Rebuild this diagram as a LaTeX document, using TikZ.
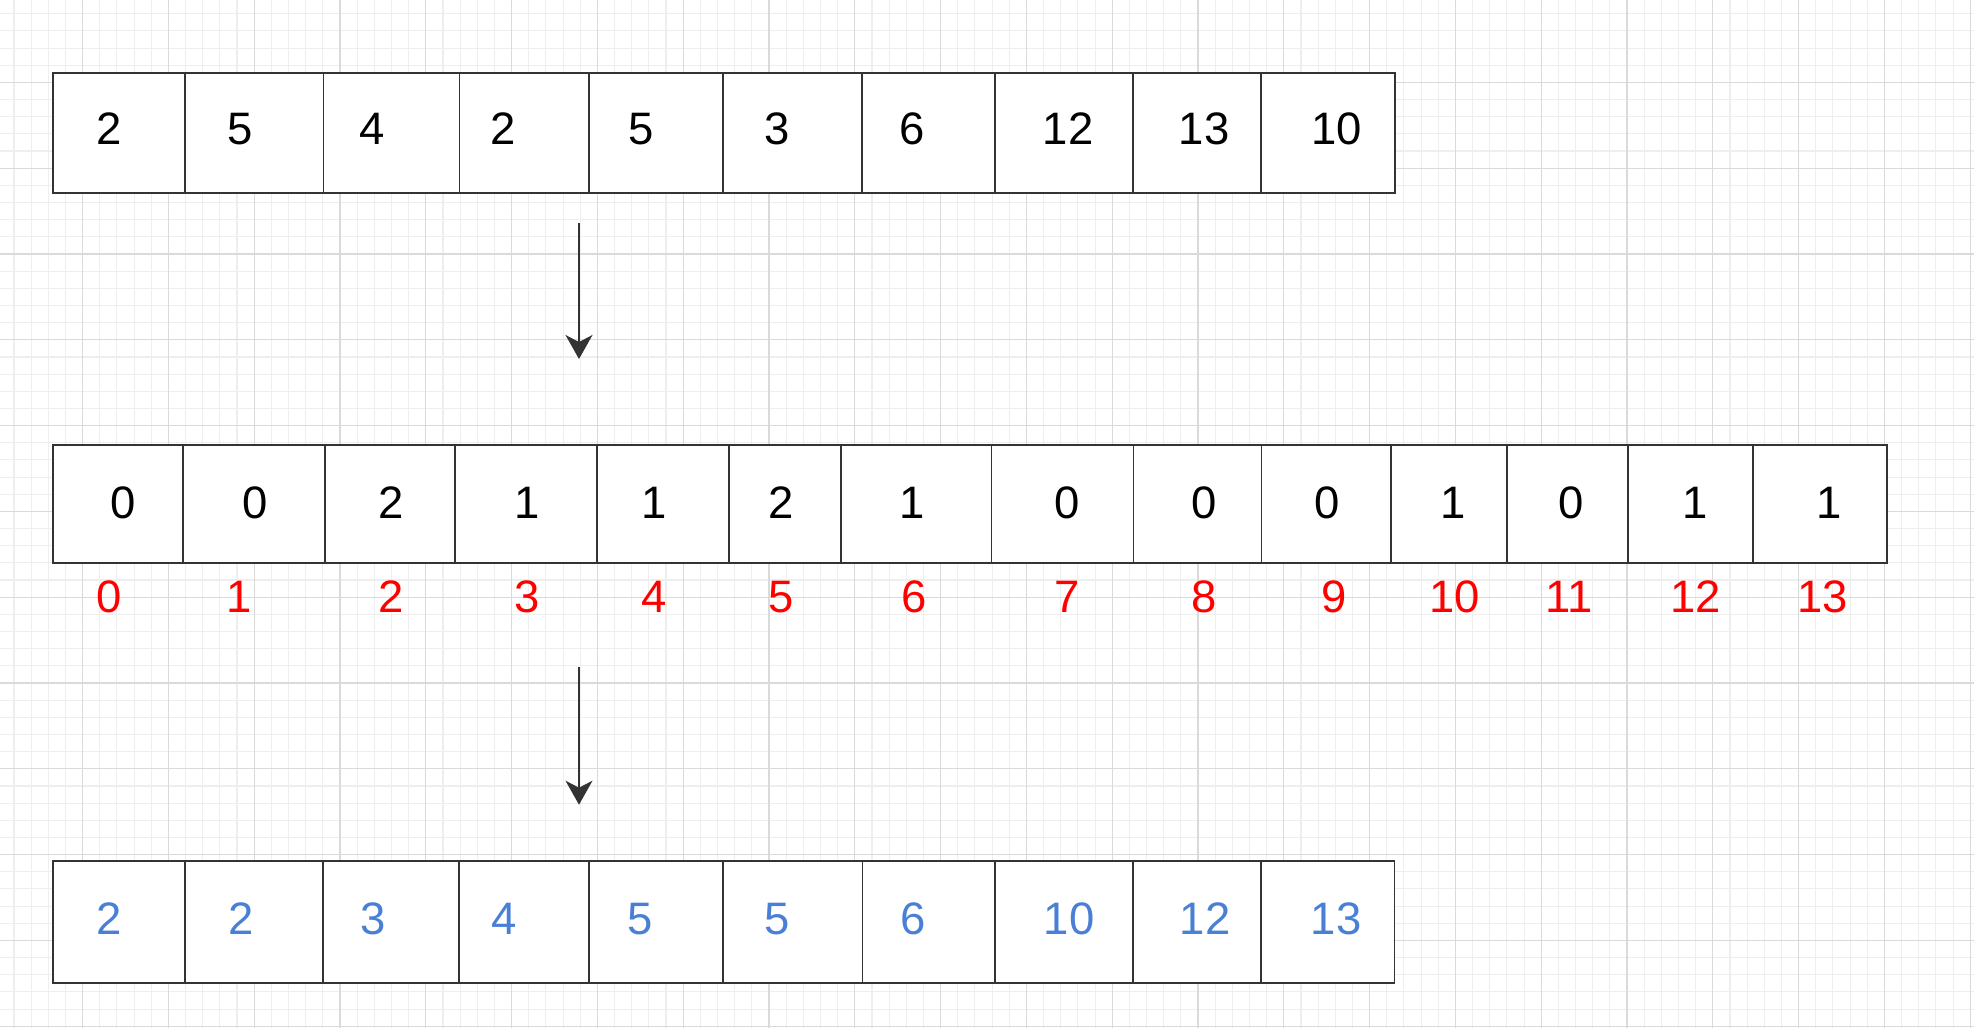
\documentclass[tikz,border=0pt]{standalone}
\usepackage{fontspec}
\setmainfont{Liberation Sans}
\usetikzlibrary{arrows.meta}
\definecolor{gmin}{HTML}{EEEEEE}
\definecolor{gmaj}{HTML}{DADADA}
\definecolor{edgec}{HTML}{333333}
\definecolor{bluetxt}{HTML}{4A7FD6}
\definecolor{redtxt}{HTML}{FF0000}
\begin{document}
\begin{tikzpicture}[x=1pt,y=-1pt,
  gridminor/.style={draw=gmin,line width=1.1pt},
  gridmajor/.style={draw=gmaj,line width=1.1pt},
  cell/.style={draw=edgec,line width=1.7pt,fill=white,inner sep=0pt,outer sep=0pt},
  numtxt/.style={anchor=base,inner sep=0pt,font=\fontsize{45.5}{50}\selectfont},
  blacktxt/.style={numtxt,text=black},
  redlbl/.style={numtxt,text=redtxt},
  bluelbl/.style={numtxt,text=bluetxt},
  arr/.style={draw=edgec,line width=1.5pt,-{Stealth[length=24pt,width=27pt,inset=7pt]}}
]
\useasboundingbox (0,0) rectangle (1974,1028);
\fill[white] (0,0) rectangle (1974,1028);
% grid
\foreach \i in {0,...,115} {\draw[gridminor] ({-3.2+17.16*\i},0) -- ++(0,1028);}
\foreach \j in {0,...,60} {\draw[gridminor] (0,{-3.4+17.16*\j}) -- ++(1974,0);}
\foreach \i in {0,...,23} {\draw[gridmajor] ({-3.2+85.8*\i},0) -- ++(0,1028);}
\foreach \j in {0,...,12} {\draw[gridmajor] (0,{-3.4+85.8*\j}) -- ++(1974,0);}

% top row
\foreach \a/\b [count=\i] in {53/185,185/323.5,323.5/459.5,459.5/589,589/723,723/862,862/995,995/1133,1133/1261,1261/1395} {
  \pgfmathsetmacro\w{\b-\a}
  \pgfmathsetmacro\cx{(\a+\b)/2}
  \node[cell,minimum width=\w pt,minimum height=120pt] (t\i) at (\cx,132.7) {};
}
\foreach \x/\v [count=\i] in {109.5/2,240.5/5,372.6/4,503.6/2,640.8/5,776.7/3,912.5/6,1068/12,1204/13,1336.5/10} {
  \node[blacktxt] (tv\i) at (\x,144.3) {\v};
}

% middle row
\foreach \a/\b [count=\i] in {53/183,183/325,325/455,455/597,597/729,729/841,841/991.5,991.5/1133.5,1133.5/1261.5,1261.5/1391,1391/1507,1507/1628,1628/1753,1753/1887} {
  \pgfmathsetmacro\w{\b-\a}
  \pgfmathsetmacro\cx{(\a+\b)/2}
  \node[cell,minimum width=\w pt,minimum height=118pt] (m\i) at (\cx,503.7) {};
}
\foreach \x/\v [count=\i] in {122.8/0,255/0,391.5/2,526.8/1,654/1,781.4/2,912/1,1067.6/0,1204.4/0,1326.8/0,1453.5/1,1570.9/0,1695.5/1,1828.8/1} {
  \node[blacktxt] (mv\i) at (\x,518) {\v};
}
\foreach \x/\v [count=\i] in {109.4/0,238.8/1,391.5/2,526.8/3,654.5/4,781.4/5,914/6,1067.6/7,1204.4/8,1334.5/9,1454.8/10,1568.7/11,1695.5/12,1822.4/13} {
  \node[redlbl] (ri\i) at (\x,612.7) {\v};
}

% bottom row
\foreach \a/\b [count=\i] in {53/185,185/323,323/459,459/589,589/723,723/862.5,862.5/995,995/1133,1133/1261.3,1261.3/1394.5} {
  \pgfmathsetmacro\w{\b-\a}
  \pgfmathsetmacro\cx{(\a+\b)/2}
  \node[cell,minimum width=\w pt,minimum height=122pt] (b\i) at (\cx,921.7) {};
}
\foreach \x/\v [count=\i] in {109/2,241/2,372.7/3,504/4,640/5,776.8/5,912.7/6,1069/10,1205/12,1336.2/13} {
  \node[bluelbl] (bv\i) at (\x,934.3) {\v};
}

% arrows
\coordinate (a1s) at (579,223.3);
\coordinate (a1e) at (579,359);
\coordinate (a2s) at (579,667);
\coordinate (a2e) at (579,804.7);
\draw[arr] (a1s) -- (a1e);
\draw[arr] (a2s) -- (a2e);
\end{tikzpicture}
\end{document}
